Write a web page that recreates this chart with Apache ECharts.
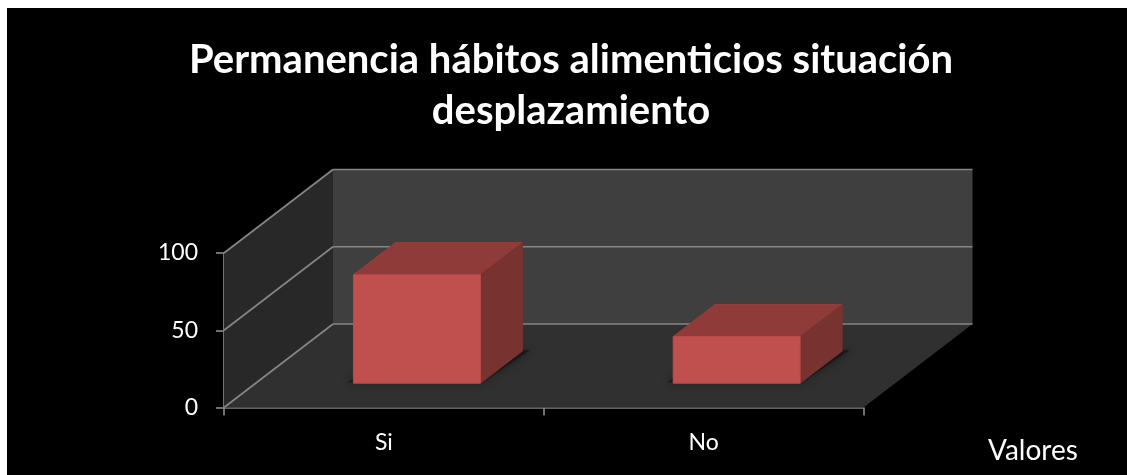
<!DOCTYPE html>
<html>
<head>
<meta charset="utf-8">
<style>html,body{margin:0;padding:0;background:#fff}#c{width:1127px;height:475px}</style>
<script src="https://cdn.jsdelivr.net/npm/echarts@6/dist/echarts.min.js"></script>
</head>
<body>
<div id="c"></div>
<script>
const titleText = 'Permanencia hábitos alimenticios situación\ndesplazamiento';
const categories = ['Si', 'No'];
const values = [69.5, 29.5];
const yTicks = [0, 50, 100];
const seriesName = 'Valores';

// oblique projection of the 3D box: pixels added per unit of depth
const DX = 109, DY = -83.5;
const BAR_FRONT = 0.303, BAR_DEPTH = 0.385, BAR_BAND = 0.397;
const LINE = '#858585';
const FONT = 'Lato';

const proj = (p, d) => [p[0] + d * DX, p[1] + d * DY];
const lineEl = (a, b) => ({
  type: 'line', shape: {x1: a[0], y1: a[1], x2: b[0], y2: b[1]},
  style: {stroke: LINE, lineWidth: 1.7}, silent: true
});
const polyEl = (pts, fill, extra) => ({
  type: 'polygon', shape: {points: pts},
  style: Object.assign({fill: fill}, extra || {}), silent: true
});

function renderWalls(params, api) {
  const tick = api.value(0);
  const a = api.coord([0, 0]), band = api.size([1, 0])[0];
  const x0 = a[0] - band / 2, x1 = x0 + band * categories.length;
  const yB = api.coord([0, yTicks[0]])[1], yT = api.coord([0, yTicks[yTicks.length - 1]])[1];
  const y = api.coord([0, tick])[1];
  const children = [];
  if (tick === yTicks[0]) {
    children.push(polyEl([[x0, yT], proj([x0, yT], 1), proj([x0, yB], 1), [x0, yB]], '#282828'));
    children.push(polyEl([proj([x0, yT], 1), proj([x1, yT], 1), proj([x1, yB], 1), proj([x0, yB], 1)], '#3f3f3f'));
    children.push(polyEl([[x0, yB], proj([x0, yB], 1), proj([x1, yB], 1), [x1, yB]], '#303030'));
  }
  children.push(lineEl([x0, y], proj([x0, y], 1)));
  children.push(lineEl(proj([x0, y], 1), proj([x1, y], 1)));
  return {type: 'group', children};
}

function renderBar(params, api) {
  const idx = api.value(0), val = api.value(1);
  const base = api.coord([idx, 0]), top = api.coord([idx, val]);
  const w = api.size([1, 0])[0] * BAR_BAND;
  const xl = base[0] - w / 2, xr = base[0] + w / 2;
  const f = BAR_FRONT, b = BAR_FRONT + BAR_DEPTH;
  const fbl = proj([xl, base[1] + 1], f), fbr = proj([xr, base[1] + 1], f);
  const ftl = proj([xl, top[1]], f), ftr = proj([xr, top[1]], f);
  const bbr = proj([xr, base[1] + 1], b);
  const btl = proj([xl, top[1]], b), btr = proj([xr, top[1]], b);
  const bbl = proj([xl, base[1] + 1], b);
  return {type: 'group', children: [
    polyEl([[fbl[0] - 6, fbl[1] - 1], [fbr[0] + 2, fbr[1] - 1], [bbr[0] + 8, bbr[1] - 1], [bbl[0], bbl[1]]],
      'rgba(20,20,20,0.7)', {shadowBlur: 8, shadowColor: 'rgba(0,0,0,0.6)'}),
    polyEl([ftl, btl, btr, ftr], '#8f3b39', {stroke: '#963e3c', lineWidth: 1, lineJoin: 'round'}),
    polyEl([ftr, btr, bbr, fbr], '#783230', {stroke: '#7c3331', lineWidth: 1, lineJoin: 'round'}),
    polyEl([ftl, ftr, fbr, fbl], '#c0504d', {stroke: '#b94c49', lineWidth: 1, lineJoin: 'round'})
  ]};
}

const chart = echarts.init(document.getElementById('c'), null, {renderer: 'canvas'});
chart.setOption({
  animation: false,
  backgroundColor: '#ffffff',
  graphic: [{type: 'rect', left: 7, top: 8, shape: {width: 1120, height: 467}, style: {fill: '#000'}, z: -100, silent: true}],
  title: {
    text: titleText, left: 566, top: 29.5, textAlign: 'center',
    textStyle: {color: '#fff', fontFamily: FONT, fontWeight: 'bold', fontSize: 40, lineHeight: 51}
  },
  legend: {
    data: [{name: seriesName, icon: 'none'}], left: 978, top: 432, itemWidth: 0, itemHeight: 0, itemGap: 0,
    selectedMode: false,
    textStyle: {color: '#fff', fontFamily: FONT, fontSize: 28}
  },
  grid: {left: 224, top: 253, width: 639.5, height: 154.5},
  xAxis: {
    type: 'category', data: categories,
    axisLine: {lineStyle: {color: LINE, width: 1.7}},
    axisTick: {show: true, length: 8, alignWithLabel: false, lineStyle: {color: LINE, width: 1.7}},
    axisLabel: {color: '#fff', fontFamily: FONT, fontSize: 23, margin: 24},
    splitLine: {show: false}
  },
  yAxis: {
    type: 'value', min: 0, max: 100, interval: 50,
    axisLine: {show: true, lineStyle: {color: LINE, width: 1.7}},
    axisTick: {show: true, length: 8, lineStyle: {color: LINE, width: 1.7}},
    axisLabel: {color: '#fff', fontFamily: FONT, fontSize: 23, margin: 26, padding: [4, 0, 0, 0]},
    splitLine: {show: false}
  },
  series: [
    {type: 'custom', name: 'walls', renderItem: renderWalls, data: yTicks.map(t => [t]),
     encode: {y: 0}, silent: true, z: 1, clip: false},
    {type: 'custom', name: seriesName, renderItem: renderBar,
     data: values.map((v, i) => [i, v]), encode: {x: 0, y: 1}, itemStyle: {color: '#c0504d'}, z: 3, clip: false}
  ]
});
</script>
</body>
</html>
